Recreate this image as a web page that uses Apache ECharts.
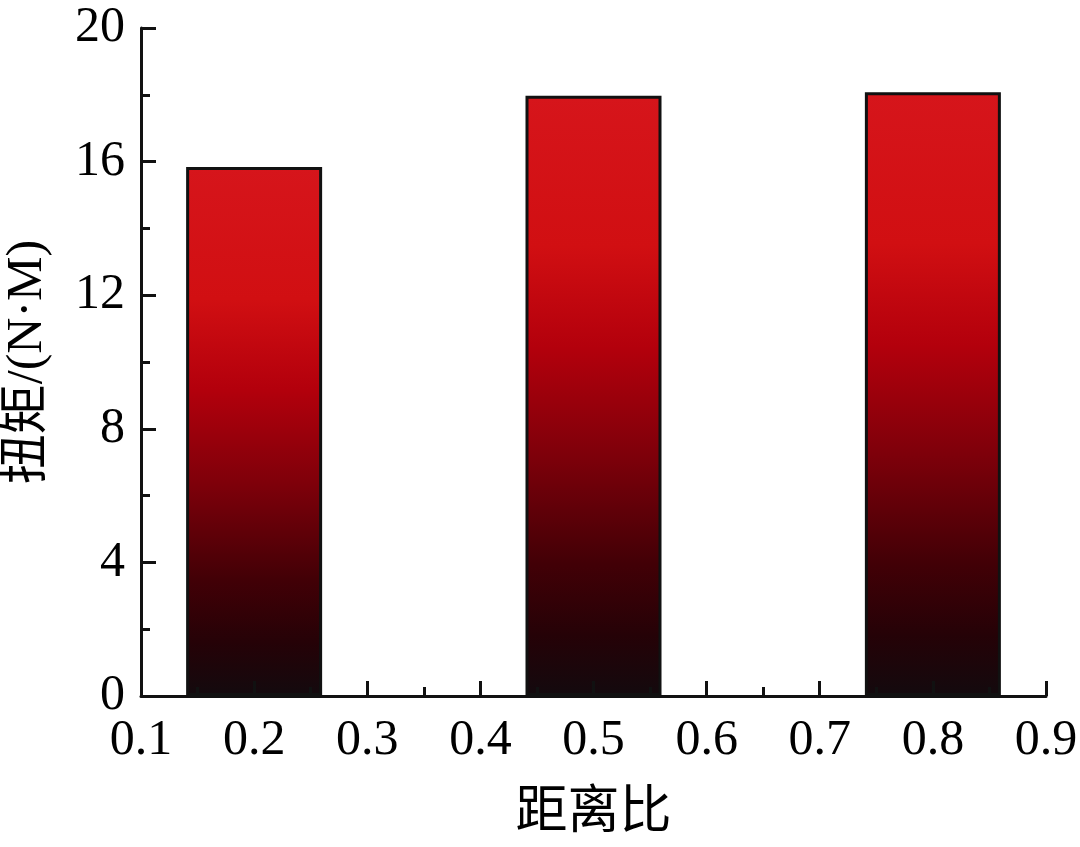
<!DOCTYPE html>
<html>
<head>
<meta charset="utf-8">
<script src="https://cdn.jsdelivr.net/npm/echarts@6/dist/echarts.min.js"></script>
<style>
  html, body { margin: 0; padding: 0; background: #fff; }
  #chart { width: 1080px; height: 847px; }
</style>
</head>
<body>
<div id="chart"></div>
<script>
// 距离比 vs 扭矩
const ratios = [0.2, 0.5, 0.8];
const torque = [15.84, 17.97, 18.08];
const xTicks = [0.1, 0.2, 0.3, 0.4, 0.5, 0.6, 0.7, 0.8, 0.9];
const yTicks = [0, 4, 8, 12, 16, 20];

const fontFam = '"Liberation Serif", "Times New Roman", "Noto Sans CJK SC", serif';

let myChart = echarts.init(document.getElementById('chart'));

let barColor = new echarts.graphic.LinearGradient(0, 0, 0, 1, [
    { offset: 0, color: '#d6151b' },
    { offset: 0.25, color: '#d10f12' },
    { offset: 0.42, color: '#b3000c' },
    { offset: 0.6, color: '#7e000a' },
    { offset: 0.78, color: '#420006' },
    { offset: 0.9, color: '#250207' },
    { offset: 1, color: '#130a0e' }
]);

let option = {
    backgroundColor: '#fff',
    animation: false,
    grid: { left: 141, right: 34, top: 28, bottom: 151, outerBoundsMode: 'none', containLabel: false },
    xAxis: {
        type: 'value',
        min: xTicks[0],
        max: xTicks[xTicks.length - 1],
        interval: 0.1,
        z: 10,
        name: '距离比',
        nameLocation: 'middle',
        nameGap: 92,
        nameTextStyle: { fontFamily: fontFam, fontSize: 52, color: '#000' },
        axisLine: { lineStyle: { color: '#111', width: 3 } },
        axisTick: { inside: true, length: 15, lineStyle: { color: '#111', width: 3 } },
        minorTick: { show: true, splitNumber: 2, length: 9, lineStyle: { color: '#111', width: 3 } },
        splitLine: { show: false },
        axisLabel: {
            margin: 20,
            fontFamily: fontFam,
            fontSize: 50,
            color: '#000',
            formatter: v => v.toFixed(1)
        }
    },
    yAxis: {
        type: 'value',
        min: yTicks[0],
        max: yTicks[yTicks.length - 1],
        interval: 4,
        z: 10,
        name: '扭矩/(N·M)',
        nameLocation: 'middle',
        nameGap: 88,
        nameTextStyle: { fontFamily: fontFam, fontSize: 50, color: '#000' },
        axisLine: { show: true, lineStyle: { color: '#111', width: 3 } },
        axisTick: { inside: true, length: 15, lineStyle: { color: '#111', width: 3 } },
        minorTick: { show: true, splitNumber: 2, length: 9, lineStyle: { color: '#111', width: 3 } },
        splitLine: { show: false },
        axisLabel: {
            margin: 16,
            fontFamily: fontFam,
            fontSize: 50,
            color: '#000'
        }
    },
    series: [
        {
            type: 'bar',
            barWidth: 136,
            data: ratios.map((r, i) => [r, torque[i]]),
            itemStyle: {
                color: barColor,
                borderColor: '#111',
                borderWidth: 3
            }
        }
    ]
};
myChart.setOption(option);
</script>
</body>
</html>
